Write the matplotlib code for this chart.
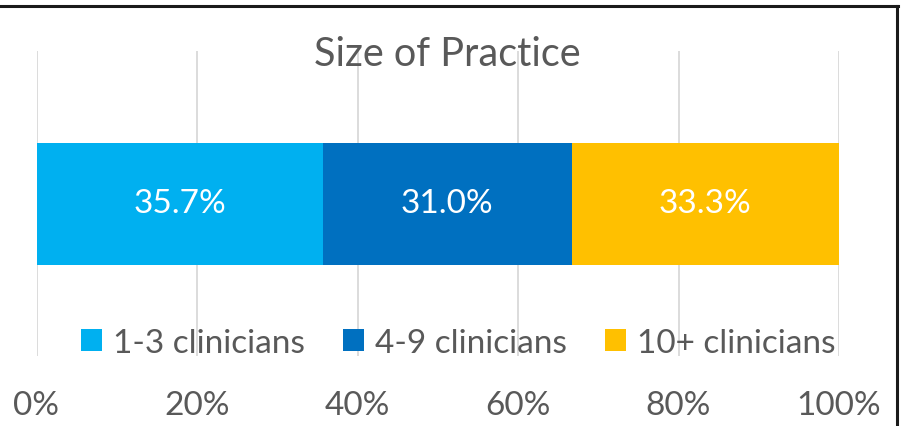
import matplotlib
matplotlib.use("Agg")
import matplotlib.pyplot as plt
from matplotlib.lines import Line2D

categories = ["Size of Practice"]
series_names = ["1-3 clinicians", "4-9 clinicians", "10+ clinicians"]
values = [35.7, 31.0, 33.3]
colors = ["#00B0F0", "#0070C0", "#FFC000"]
tick_values = [0, 20, 40, 60, 80, 100]
tick_labels = ["0%", "20%", "40%", "60%", "80%", "100%"]

plt.rcParams['font.family'] = ['Lato', 'DejaVu Sans']
W, H = 901, 427
fig = plt.figure(figsize=(W / 100, H / 100), dpi=100)
fig.patch.set_facecolor("white")

x0, x1 = 36.5, 839.0
y_top, y_bot = 52.0, 357.0
ax = fig.add_axes([x0 / W, 1 - y_bot / H, (x1 - x0) / W, (y_bot - y_top) / H])
ax.set_xlim(0, 100)
ax.set_ylim(-0.5, 0.5)

FS = 24
left = 0
handles = []
for name, v, c in zip(series_names, values, colors):
    b = ax.barh(0.0, v, left=left, height=0.40, color=c, label=name, zorder=2)
    ax.text(left + v / 2, 0.0, f"{v:.1f}%", ha="center", va="center",
            color="white", fontsize=FS, zorder=3)
    handles.append(b)
    left += v

ax.set_xticks(tick_values)
ax.set_xticklabels(tick_labels)
ax.tick_params(axis="x", length=0, pad=24.5, labelsize=FS, labelcolor="#595959")
ax.set_yticks([])
ax.grid(axis="x", color="#D9D9D9", linewidth=1.3, zorder=0)
ax.set_axisbelow(True)
for s in ax.spines.values():
    s.set_visible(False)

fig.text(447 / W, 1 - 55 / H, "Size of Practice", ha="center", va="center",
         fontsize=28.5, color="#595959")

fig.legend(handles=handles, labels=series_names, loc="center",
           bbox_to_anchor=(458 / W, 1 - 344 / H), ncol=3, frameon=False,
           fontsize=FS, labelcolor="#595959", handlelength=0.63,
           handleheight=0.63, handletextpad=0.33, columnspacing=1.15,
           borderpad=0, borderaxespad=0)

fig.add_artist(Line2D([0, 898 / W], [1 - 7 / H, 1 - 7 / H], transform=fig.transFigure,
                      color="#1a1a1a", linewidth=2.2))
fig.add_artist(Line2D([897 / W, 897 / W], [1 - 7 / H, 0], transform=fig.transFigure,
                      color="#1a1a1a", linewidth=2.2))

fig.savefig("out.png", dpi=100, facecolor="white")
